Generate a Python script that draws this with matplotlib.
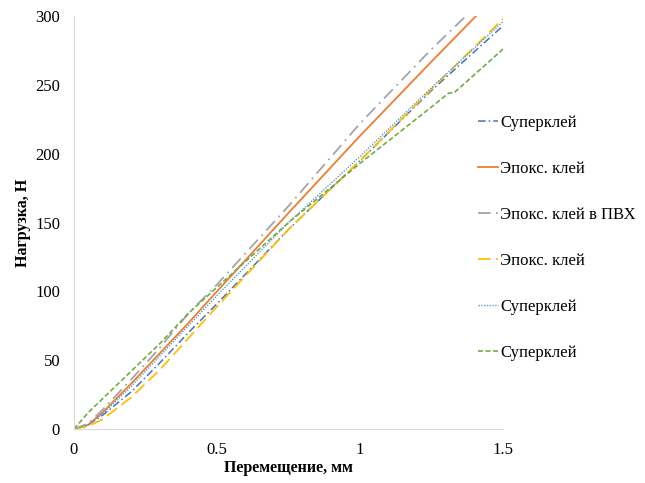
import matplotlib
matplotlib.use("Agg")
import matplotlib.pyplot as plt

# displacement, mm / load, N for each specimen
x_common = [0, 0.05, 0.1, 0.2, 0.3, 0.4, 0.5, 0.75, 1.0, 1.25, 1.5]

x_super1 = x_common
y_super1 = [0, 3, 10, 27, 48, 70, 91, 145, 195, 246, 293]

x_epoxy1 = [0, 0.05, 0.1, 0.2, 0.3, 0.4, 0.5, 0.75, 1.0, 1.25, 1.41]
y_epoxy1 = [0, 3, 12, 33, 55, 77, 100, 157, 213, 267, 301]

x_epoxy_pvc = [0, 0.05, 0.1, 0.2, 0.3, 0.4, 0.5, 0.75, 1.0, 1.25, 1.375]
y_epoxy_pvc = [0, 4, 14, 36, 59, 84, 105, 162, 222, 276, 301]

x_epoxy2 = x_common
y_epoxy2 = [0, 2, 7, 23, 43, 66, 89, 145, 195, 247, 298]

x_super2 = x_common
y_super2 = [0, 3, 11, 31, 53, 75, 97, 150, 198, 248, 296]

x_super3 = [0, 0.05, 0.1, 0.2, 0.3, 0.4, 0.5, 0.75, 1.0, 1.25, 1.31, 1.33, 1.5]
y_super3 = [0, 12, 22, 42, 62, 84, 103, 150, 193, 234, 244, 244.5, 276]

labels = ["Суперклей", "Эпокс. клей", "Эпокс. клей в ПВХ",
          "Эпокс. клей", "Суперклей", "Суперклей"]

plt.rcParams["font.family"] = ["Liberation Serif", "DejaVu Serif"]

fig = plt.figure(figsize=(6.45, 4.83), dpi=100)
ax = fig.add_axes([0.1147, 0.1118, 0.6653, 0.855])

ax.plot(x_super1, y_super1, color="#4472C4", lw=1.1, dashes=(5, 2, 1, 2), label=labels[0])
ax.plot(x_epoxy1, y_epoxy1, color="#ED7D31", lw=1.3, label=labels[1])
ax.plot(x_epoxy_pvc, y_epoxy_pvc, color="#A5A5A5", lw=1.3, dashes=(7, 3, 1, 3), label=labels[2])
ax.plot(x_epoxy2, y_epoxy2, color="#FFC000", lw=1.3, dashes=(7, 3), label=labels[3])
ax.plot(x_super2, y_super2, color="#5B9BD5", lw=1.0, dashes=(1, 1), label=labels[4])
ax.plot(x_super3, y_super3, color="#70AD47", lw=1.2, dashes=(3, 1.5), label=labels[5])

ax.set_xlim(0, 1.5)
ax.set_ylim(0, 300)
ax.set_xticks([0, 0.5, 1, 1.5])
ax.set_xticklabels(["0", "0.5", "1", "1.5"])
ax.set_yticks(range(0, 301, 50))
ax.tick_params(axis="y", length=0, labelsize=12, pad=10)
ax.tick_params(axis="x", length=0, labelsize=12, pad=9)
for s in ["top", "right"]:
    ax.spines[s].set_visible(False)
for s in ["left", "bottom"]:
    ax.spines[s].set_color("#D9D9D9")

ax.set_xlabel("Перемещение, мм", fontsize=11.5, fontweight="bold", labelpad=2)
ax.set_ylabel("Нагрузка, Н", fontsize=11.5, fontweight="bold", labelpad=3)

fig.legend(loc="center left", bbox_to_anchor=(463 / 645, 0.508), frameon=False,
           fontsize=12, handlelength=1.2, handletextpad=0.15, labelspacing=1.8)

fig.savefig("out.png", dpi=100)
